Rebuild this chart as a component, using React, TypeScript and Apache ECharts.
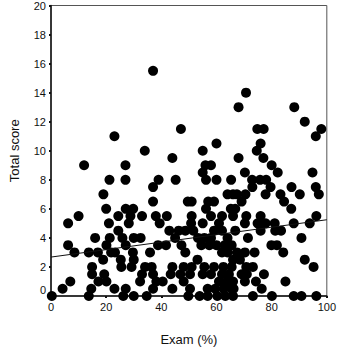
import React, { useEffect, useRef } from "react";
import * as echarts from "echarts";

// Scatter data: exam percentage (x) and total score (y), grouped by score row
const row15_5 = [37];
const row14 = [70.7];
const row13 = [68, 88.2];
const row12 = [92];
const row11_5 = [47.1, 74.8, 77.1, 98];
const row11 = [23, 96];
const row10_5 = [60, 76];
const row10 = [34, 55, 74.6];
const row9_5 = [44, 68, 77];
const row9 = [12, 27, 56, 58, 80];
const row8_5 = [55, 70.3, 82.2, 94.8];
const row8 = [21.2, 27, 39, 45.2, 56.2, 60, 65.3, 72.9, 75.8, 78];
const row7_5 = [37, 73, 79.6, 87.2, 96];
const row7 = [19, 64, 66, 67.4, 70.5, 77.8, 83.2, 90.2, 97.1];
const row6_5 = [37, 49.6, 51, 57, 59.1, 69.1, 84.5];
const row6 = [20, 27.1, 29.8, 56.2, 65.2, 66.8, 87.1];
const row5_5 = [10, 24.4, 28.8, 33, 38, 42, 51, 58, 62, 66, 70.8, 76, 96.2];
const row5 = [6.2, 21, 28.2, 39.4, 50.8, 55, 60.9, 70.3, 74.9, 77.8, 81.1, 88, 93.8];
const row4_5 = [24.4, 42.9, 46.3, 48.7, 51.6, 59.1, 62, 66.8, 76, 81.3, 83.4];
const row4 = [16, 21.3, 25.9, 30, 32.5, 45, 53.3, 55.6, 58, 64, 71.4, 90.8];
const row3_5 = [6.2, 20.1, 27.1, 38.8, 41.7, 47.3, 54.5, 57.4, 60, 63, 65.5, 79.9, 81.9];
const row3 = [8.5, 13.7, 17, 21.8, 23.2, 29.7, 35.9, 48.7, 62, 64, 67.4, 70.3, 73.8, 84.2];
const row2_5 = [18.9, 25.3, 30, 53.1, 66, 68.5, 92];
const row2 = [14.9, 25.5, 29.2, 34.1, 36.5, 44, 48.1, 51, 55.6, 59.1, 62.5, 65.5, 70.8, 73.2, 95.2];
const row1_5 = [14.9, 19.3, 33, 37, 43.4, 46.9, 50.4, 55, 58, 62, 64.5, 69.1, 71, 77.2];
const row1 = [7, 17.2, 20.1, 32.3, 38.2, 40.5, 48.1, 60.9, 63.8, 66, 70.3, 74.3, 85];
const row0_5 = [4.2, 14.6, 23, 27.1, 37, 44, 50.4, 56.8, 59.5, 62.6, 65.5, 66.2, 76.4];
const row0 = [0.3, 13.7, 26.2, 30, 34.7, 49.8, 53.9, 56.8, 60.3, 63.2, 66, 73.2, 80.1, 88, 90.8, 96.2];

const scoreRows: [number, number[]][] = [
  [15.5, row15_5], [14, row14], [13, row13], [12, row12], [11.5, row11_5], [11, row11],
  [10.5, row10_5], [10, row10], [9.5, row9_5], [9, row9], [8.5, row8_5], [8, row8],
  [7.5, row7_5], [7, row7], [6.5, row6_5], [6, row6], [5.5, row5_5], [5, row5],
  [4.5, row4_5], [4, row4], [3.5, row3_5], [3, row3], [2.5, row2_5], [2, row2],
  [1.5, row1_5], [1, row1], [0.5, row0_5], [0, row0],
];

// Regression line end points
const fitX = [0, 100];
const fitY = [2.68, 5.25];

const xTicks = [0, 20, 40, 60, 80, 100];
const yTicks = [0, 2, 4, 6, 8, 10, 12, 14, 16, 18, 20];

export default function App() {
  const ref = useRef<HTMLDivElement>(null);
  useEffect(() => {
    if (!ref.current) return;
    const chart = echarts.init(ref.current, undefined, { renderer: "svg" });
    const points: number[][] = [];
    scoreRows.forEach(([y, xs]) => xs.forEach((x) => points.push([x, y])));
    const font = "Liberation Sans, Arial, sans-serif";
    chart.setOption({
      animation: false,
      backgroundColor: "#fff",
      grid: {
        left: 42, right: 10, top: 5, bottom: 53,
        show: true, borderColor: "#555", borderWidth: 1, backgroundColor: "transparent",
      },
      xAxis: {
        type: "value", min: xTicks[0], max: xTicks[xTicks.length - 1], interval: 20,
        name: "Exam (%)", nameLocation: "middle", nameGap: 37,
        nameTextStyle: { fontFamily: font, fontSize: 13, color: "#111" },
        axisLine: { show: true, onZero: false, lineStyle: { color: "#111", width: 1.5 } },
        axisTick: { show: true, inside: false, length: 2, lineStyle: { color: "#111", width: 2 } },
        axisLabel: { fontFamily: font, fontSize: 11, color: "#111", margin: 5 },
        splitLine: { show: false },
      },
      yAxis: {
        type: "value", min: yTicks[0], max: yTicks[yTicks.length - 1], interval: 2,
        name: "Total score", nameLocation: "middle", nameGap: 30,
        nameTextStyle: { fontFamily: font, fontSize: 13, color: "#111" },
        axisLine: { show: true, onZero: false, lineStyle: { color: "#111", width: 1.5 } },
        axisTick: { show: true, inside: false, length: 2, lineStyle: { color: "#111", width: 2 } },
        axisLabel: {
          fontFamily: font, fontSize: 11, color: "#111", margin: 5,
          formatter: (v: number) => (v === 0 ? "{z|0}" : String(v)),
          rich: { z: { fontFamily: font, fontSize: 11, color: "#111", padding: [0, 0, 12, 0] } },
        },
        splitLine: { show: false },
      },
      series: [
        {
          type: "scatter",
          data: points,
          symbol: "circle",
          symbolSize: 10,
          clip: false,
          itemStyle: { color: "#000", opacity: 1 },
          z: 3,
        },
        {
          type: "line",
          data: fitX.map((x, i) => [x, fitY[i]]),
          symbol: "none",
          lineStyle: { color: "#111", width: 1 },
          z: 4,
        },
      ],
    });
    return () => chart.dispose();
  }, []);
  return (
    <div
      ref={ref}
      style={{ position: "fixed", left: 0, top: 0, width: 339, height: 351, background: "#fff" }}
    />
  );
}
